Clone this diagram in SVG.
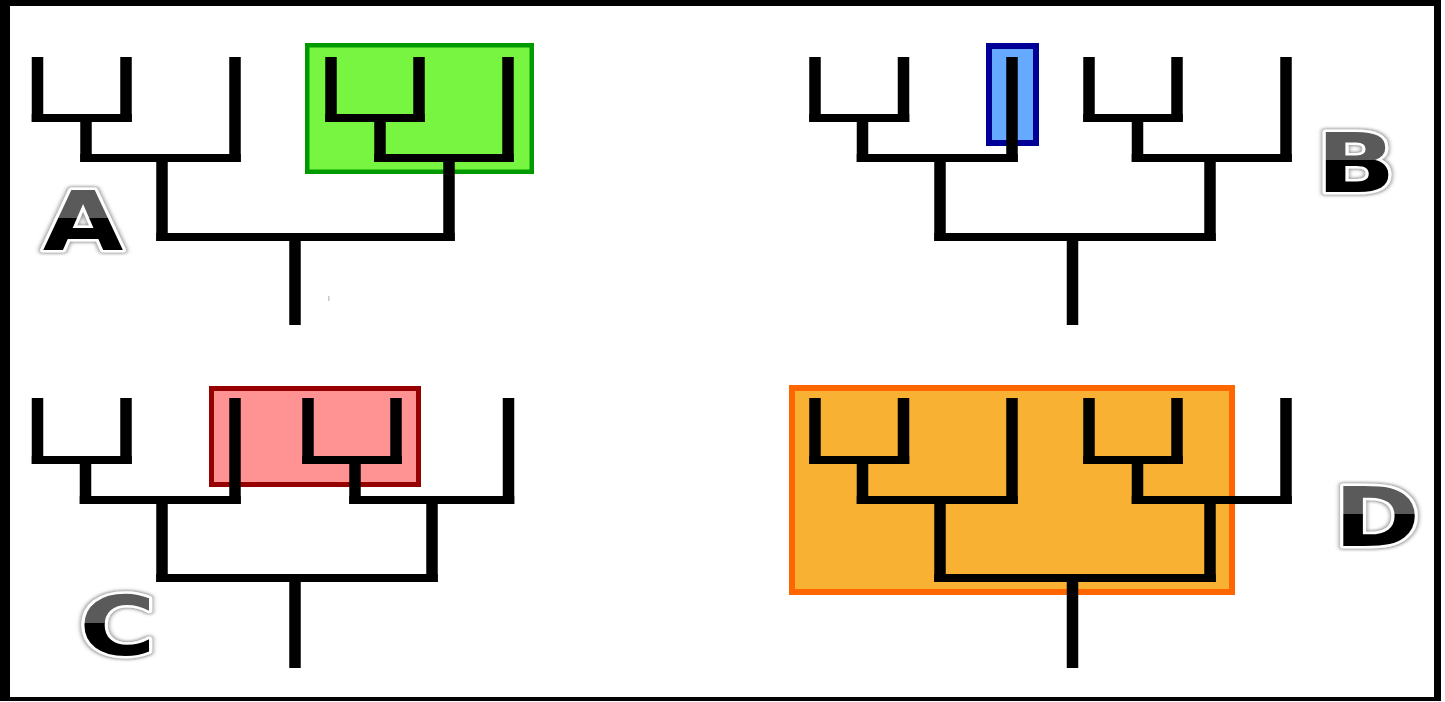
<svg xmlns="http://www.w3.org/2000/svg" width="1445" height="702" viewBox="0 0 1445 702">
  <defs>
    <style>
      .v { stroke: #000; stroke-width: 11.5; stroke-linecap: butt; fill: none; }
      .h { stroke: #000; stroke-width: 8; stroke-linecap: butt; fill: none; }
      .frame { fill: #000; }
      .label { font-family: "DejaVu Sans", "Liberation Sans", sans-serif; font-weight: bold; font-size: 82px; text-anchor: middle; fill: url(#letterFill); stroke: #fff; stroke-width: 5; stroke-linejoin: round; paint-order: stroke; filter: url(#glow); }
    </style>
    <!-- two-tone letter fill: grey upper part, black lower part (baseline at y=0) -->
    <linearGradient id="letterFill" gradientUnits="userSpaceOnUse" x1="0" y1="-60" x2="0" y2="0">
      <stop offset="0" stop-color="#5a5a5a"/>
      <stop offset="0.47" stop-color="#5a5a5a"/>
      <stop offset="0.47" stop-color="#000"/>
      <stop offset="1" stop-color="#000"/>
    </linearGradient>
    <filter id="glow" x="-30%" y="-30%" width="160%" height="160%">
      <feMorphology in="SourceAlpha" operator="dilate" radius="0.8" result="fat"/>
      <feGaussianBlur in="fat" stdDeviation="1.6" result="blur"/>
      <feFlood flood-color="#7a7a7a" flood-opacity="0.8"/>
      <feComposite in2="blur" operator="in" result="halo"/>
      <feMerge>
        <feMergeNode in="halo"/>
        <feMergeNode in="SourceGraphic"/>
      </feMerge>
    </filter>
  </defs>

  <rect x="0" y="0" width="1445" height="702" fill="#fff"/>

  <!-- outer frame -->
  <g id="frame">
    <rect class="frame" x="0" y="0" width="1440" height="6"/>
    <rect class="frame" x="0" y="0" width="10" height="701"/>
    <rect class="frame" x="1434" y="0" width="7" height="701"/>
    <rect class="frame" x="0" y="697" width="1441" height="4"/>
  </g>

  <!-- highlighted groups -->
  <g id="box-a">
    <rect x="307.25" y="45.25" width="224.5" height="126.5" fill="#77f541" stroke="#009a00" stroke-width="4.5"/>
  </g>
  <g id="box-b">
    <rect x="989" y="46" width="47" height="97" fill="#66aaff" stroke="#000096" stroke-width="6"/>
  </g>
  <g id="box-c">
    <rect x="211.5" y="388.5" width="207" height="96" fill="#ff9393" stroke="#960000" stroke-width="5"/>
  </g>
  <g id="box-d">
    <rect x="792" y="388" width="440" height="204" fill="#f8b133" stroke="#ff6600" stroke-width="6"/>
  </g>

  <!-- tree branches -->
  <g id="connectors">
    <g id="tree-a">
      <line class="v" x1="37.5" y1="57" x2="37.5" y2="122"/>
      <line class="v" x1="126" y1="57" x2="126" y2="122"/>
      <line class="v" x1="86" y1="118" x2="86" y2="162"/>
      <line class="v" x1="235" y1="57" x2="235" y2="162"/>
      <line class="v" x1="162" y1="158" x2="162" y2="241"/>
      <line class="v" x1="331" y1="57" x2="331" y2="122"/>
      <line class="v" x1="419" y1="57" x2="419" y2="122"/>
      <line class="v" x1="380" y1="118" x2="380" y2="162"/>
      <line class="v" x1="508" y1="57" x2="508" y2="162"/>
      <line class="v" x1="449" y1="158" x2="449" y2="241"/>
      <line class="v" x1="295" y1="237" x2="295" y2="325"/>
      <line class="h" x1="31.75" y1="118" x2="131.75" y2="118"/>
      <line class="h" x1="80.25" y1="158" x2="240.75" y2="158"/>
      <line class="h" x1="325.25" y1="118" x2="424.75" y2="118"/>
      <line class="h" x1="374.25" y1="158" x2="513.75" y2="158"/>
      <line class="h" x1="156.25" y1="237" x2="454.75" y2="237"/>
    </g>
    <g id="tree-b">
      <line class="v" x1="815" y1="57" x2="815" y2="122"/>
      <line class="v" x1="903.5" y1="57" x2="903.5" y2="122"/>
      <line class="v" x1="862.5" y1="118" x2="862.5" y2="162"/>
      <line class="v" x1="1012" y1="57" x2="1012" y2="162"/>
      <line class="v" x1="940" y1="158" x2="940" y2="241"/>
      <line class="v" x1="1089" y1="57" x2="1089" y2="122"/>
      <line class="v" x1="1177" y1="57" x2="1177" y2="122"/>
      <line class="v" x1="1137.5" y1="118" x2="1137.5" y2="162"/>
      <line class="v" x1="1286" y1="57" x2="1286" y2="162"/>
      <line class="v" x1="1210" y1="158" x2="1210" y2="241"/>
      <line class="v" x1="1072.5" y1="237" x2="1072.5" y2="325"/>
      <line class="h" x1="809.25" y1="118" x2="909.25" y2="118"/>
      <line class="h" x1="856.75" y1="158" x2="1017.75" y2="158"/>
      <line class="h" x1="1083.25" y1="118" x2="1182.75" y2="118"/>
      <line class="h" x1="1131.75" y1="158" x2="1291.75" y2="158"/>
      <line class="h" x1="934.25" y1="237" x2="1215.75" y2="237"/>
    </g>
    <g id="tree-c">
      <line class="v" x1="37.5" y1="398" x2="37.5" y2="464"/>
      <line class="v" x1="126" y1="398" x2="126" y2="464"/>
      <line class="v" x1="85.5" y1="460" x2="85.5" y2="504"/>
      <line class="v" x1="235" y1="398" x2="235" y2="504"/>
      <line class="v" x1="162" y1="500" x2="162" y2="582"/>
      <line class="v" x1="308" y1="398" x2="308" y2="464"/>
      <line class="v" x1="396" y1="398" x2="396" y2="464"/>
      <line class="v" x1="355" y1="460" x2="355" y2="504"/>
      <line class="v" x1="508.5" y1="398" x2="508.5" y2="504"/>
      <line class="v" x1="432" y1="500" x2="432" y2="582"/>
      <line class="v" x1="295" y1="578" x2="295" y2="668"/>
      <line class="h" x1="31.75" y1="460" x2="131.75" y2="460"/>
      <line class="h" x1="79.75" y1="500" x2="240.75" y2="500"/>
      <line class="h" x1="302.25" y1="460" x2="401.75" y2="460"/>
      <line class="h" x1="349.25" y1="500" x2="514.25" y2="500"/>
      <line class="h" x1="156.25" y1="578" x2="437.75" y2="578"/>
    </g>
    <g id="tree-d">
      <line class="v" x1="815" y1="398" x2="815" y2="464"/>
      <line class="v" x1="903.5" y1="398" x2="903.5" y2="464"/>
      <line class="v" x1="862.5" y1="460" x2="862.5" y2="504"/>
      <line class="v" x1="1012" y1="398" x2="1012" y2="504"/>
      <line class="v" x1="940" y1="500" x2="940" y2="582"/>
      <line class="v" x1="1089" y1="398" x2="1089" y2="464"/>
      <line class="v" x1="1177" y1="398" x2="1177" y2="464"/>
      <line class="v" x1="1137.5" y1="460" x2="1137.5" y2="504"/>
      <line class="v" x1="1286" y1="398" x2="1286" y2="504"/>
      <line class="v" x1="1210" y1="500" x2="1210" y2="582"/>
      <line class="v" x1="1072.5" y1="578" x2="1072.5" y2="668"/>
      <line class="h" x1="809.25" y1="460" x2="909.25" y2="460"/>
      <line class="h" x1="856.75" y1="500" x2="1017.75" y2="500"/>
      <line class="h" x1="1083.25" y1="460" x2="1182.75" y2="460"/>
      <line class="h" x1="1131.75" y1="500" x2="1291.75" y2="500"/>
      <line class="h" x1="934.25" y1="578" x2="1215.75" y2="578"/>
    </g>
  </g>

  <!-- small stray mark -->
  <rect x="328" y="296" width="1.5" height="5" fill="#c8c8c8"/>

  <!-- panel letters -->
  <g id="label-a" transform="translate(83,250) scale(1.27,1)"><text class="label" x="0" y="0">A</text></g>
  <g id="label-b" transform="translate(1356,192) scale(1.27,1)"><text class="label" x="0" y="0">B</text></g>
  <g id="label-c" transform="translate(117.5,655) scale(1.27,1)"><text class="label" x="0" y="0">C</text></g>
  <g id="label-d" transform="translate(1377,546) scale(1.27,1)"><text class="label" x="0" y="0">D</text></g>
</svg>
